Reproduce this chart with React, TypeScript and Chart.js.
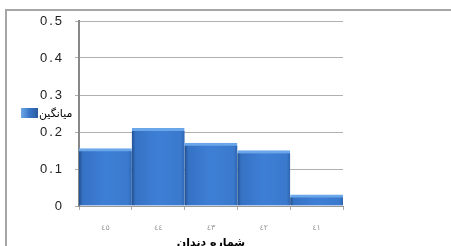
import React, { useEffect, useRef } from 'react';
import { Chart, registerables } from 'chart.js';

Chart.register(...registerables);

const categories = ['٤٥', '٤٤', '٤٣', '٤٢', '٤١'];
const meanValues = [0.155, 0.21, 0.17, 0.15, 0.03];
const seriesLabel = 'میانگین';
const xAxisTitle = 'شماره دندان';
const yMin = 0;
const yMax = 0.5;
const yStep = 0.1;

function barGradient(ctx: any) {
  const chart = ctx.chart;
  const xs = chart.scales && chart.scales.x;
  if (!xs || ctx.dataIndex === undefined) return '#3b78cc';
  const w = (xs.right - xs.left) / categories.length;
  const cx = xs.getPixelForValue(ctx.dataIndex);
  if (!isFinite(w) || !isFinite(cx) || w <= 0) return '#3b78cc';
  const g = chart.ctx.createLinearGradient(cx - w / 2, 0, cx + w / 2, 0);
  g.addColorStop(0, '#234f8f');
  g.addColorStop(0.07, '#3672c4');
  g.addColorStop(0.5, '#3e7fd6');
  g.addColorStop(0.93, '#3a79cc');
  g.addColorStop(1, '#2f66b2');
  return g;
}

function spacedLabels(spacing: string) {
  return (scale: any) => {
    if (scale.__spaced) return;
    scale.__spaced = true;
    const orig = scale.drawLabels.bind(scale);
    scale.drawLabels = (area: any) => {
      const c = scale.ctx;
      c.save();
      (c as any).letterSpacing = spacing;
      orig(area);
      c.restore();
    };
  };
}

const sideLegend = {
  id: 'sideLegend',
  afterDraw(chart: any) {
    const c = chart.ctx;
    c.save();
    const g = c.createLinearGradient(21, 0, 38, 0);
    g.addColorStop(0, '#6ea8e6');
    g.addColorStop(0.5, '#3a76c8');
    g.addColorStop(1, '#2a5a9e');
    c.fillStyle = g;
    c.fillRect(21, 108, 17, 10);
    c.font = '11px "DejaVu Sans"';
    c.fillStyle = '#000';
    c.textAlign = 'left';
    c.textBaseline = 'middle';
    c.fillText(seriesLabel, 39, 114);
    c.restore();
  },
};

export default function App() {
  const ref = useRef<HTMLCanvasElement | null>(null);
  useEffect(() => {
    if (!ref.current) return;
    const chart = new Chart(ref.current, {
      type: 'bar',
      data: {
        labels: categories,
        datasets: [
          {
            label: seriesLabel,
            data: meanValues,
            backgroundColor: barGradient as any,
            borderColor: '#6aa6ea',
            borderWidth: { top: 3, left: 0, right: 0, bottom: 0 } as any,
            borderSkipped: false,
            barPercentage: 1,
            categoryPercentage: 1,
          },
        ],
      },
      options: {
        animation: false,
        responsive: false,
        devicePixelRatio: 1,
        layout: { padding: { left: 0, top: 21, right: 108, bottom: 0 } },
        plugins: {
          legend: { display: false },
          tooltip: { enabled: false },
        },
        scales: {
          x: {
            afterFit: (s: any) => {
              s.height = 52;
            },
            afterUpdate: spacedLabels('3px'),
            grid: {
              display: true,
              offset: true,
              drawOnChartArea: false,
              tickLength: 4,
              color: '#aaaaaa',
            },
            border: { color: '#999999', width: 1 },
            ticks: {
              padding: 13,
              color: '#999999',
              font: { size: 8, family: '"DejaVu Sans"' },
            },
            title: {
              display: true,
              text: xAxisTitle,
              color: '#000',
              font: { size: 11, weight: 'bold', family: '"DejaVu Sans"' },
              padding: { top: 0, bottom: 8 },
            },
          },
          y: {
            min: yMin,
            max: yMax,
            afterFit: (s: any) => {
              s.width = 79;
            },
            afterUpdate: spacedLabels('2px'),
            grid: {
              color: '#b0b0b0',
              tickLength: 4,
              lineWidth: 1,
            },
            border: { color: '#888888', width: 2 },
            ticks: {
              stepSize: yStep,
              padding: 11,
              color: '#222',
              font: { size: 13, family: '"Liberation Sans"' },
              callback: (v: any) => (Number(v) === 0 ? '0' : Number(v).toFixed(1)),
            },
          },
        },
      },
      plugins: [sideLegend],
    });
    return () => chart.destroy();
  }, []);

  return (
    <div
      style={{
        position: 'fixed',
        left: 0,
        top: 0,
        width: 451,
        height: 246,
        overflow: 'hidden',
        background: '#fff',
      }}
    >
      <div
        style={{
          position: 'absolute',
          left: 5,
          top: 9,
          width: 470,
          height: 260,
          border: '2px solid #a6a6a6',
          boxSizing: 'border-box',
        }}
      />
      <canvas
        ref={ref}
        width={451}
        height={258}
        style={{ position: 'absolute', left: 0, top: 0, width: 451, height: 258 }}
      />
    </div>
  );
}
